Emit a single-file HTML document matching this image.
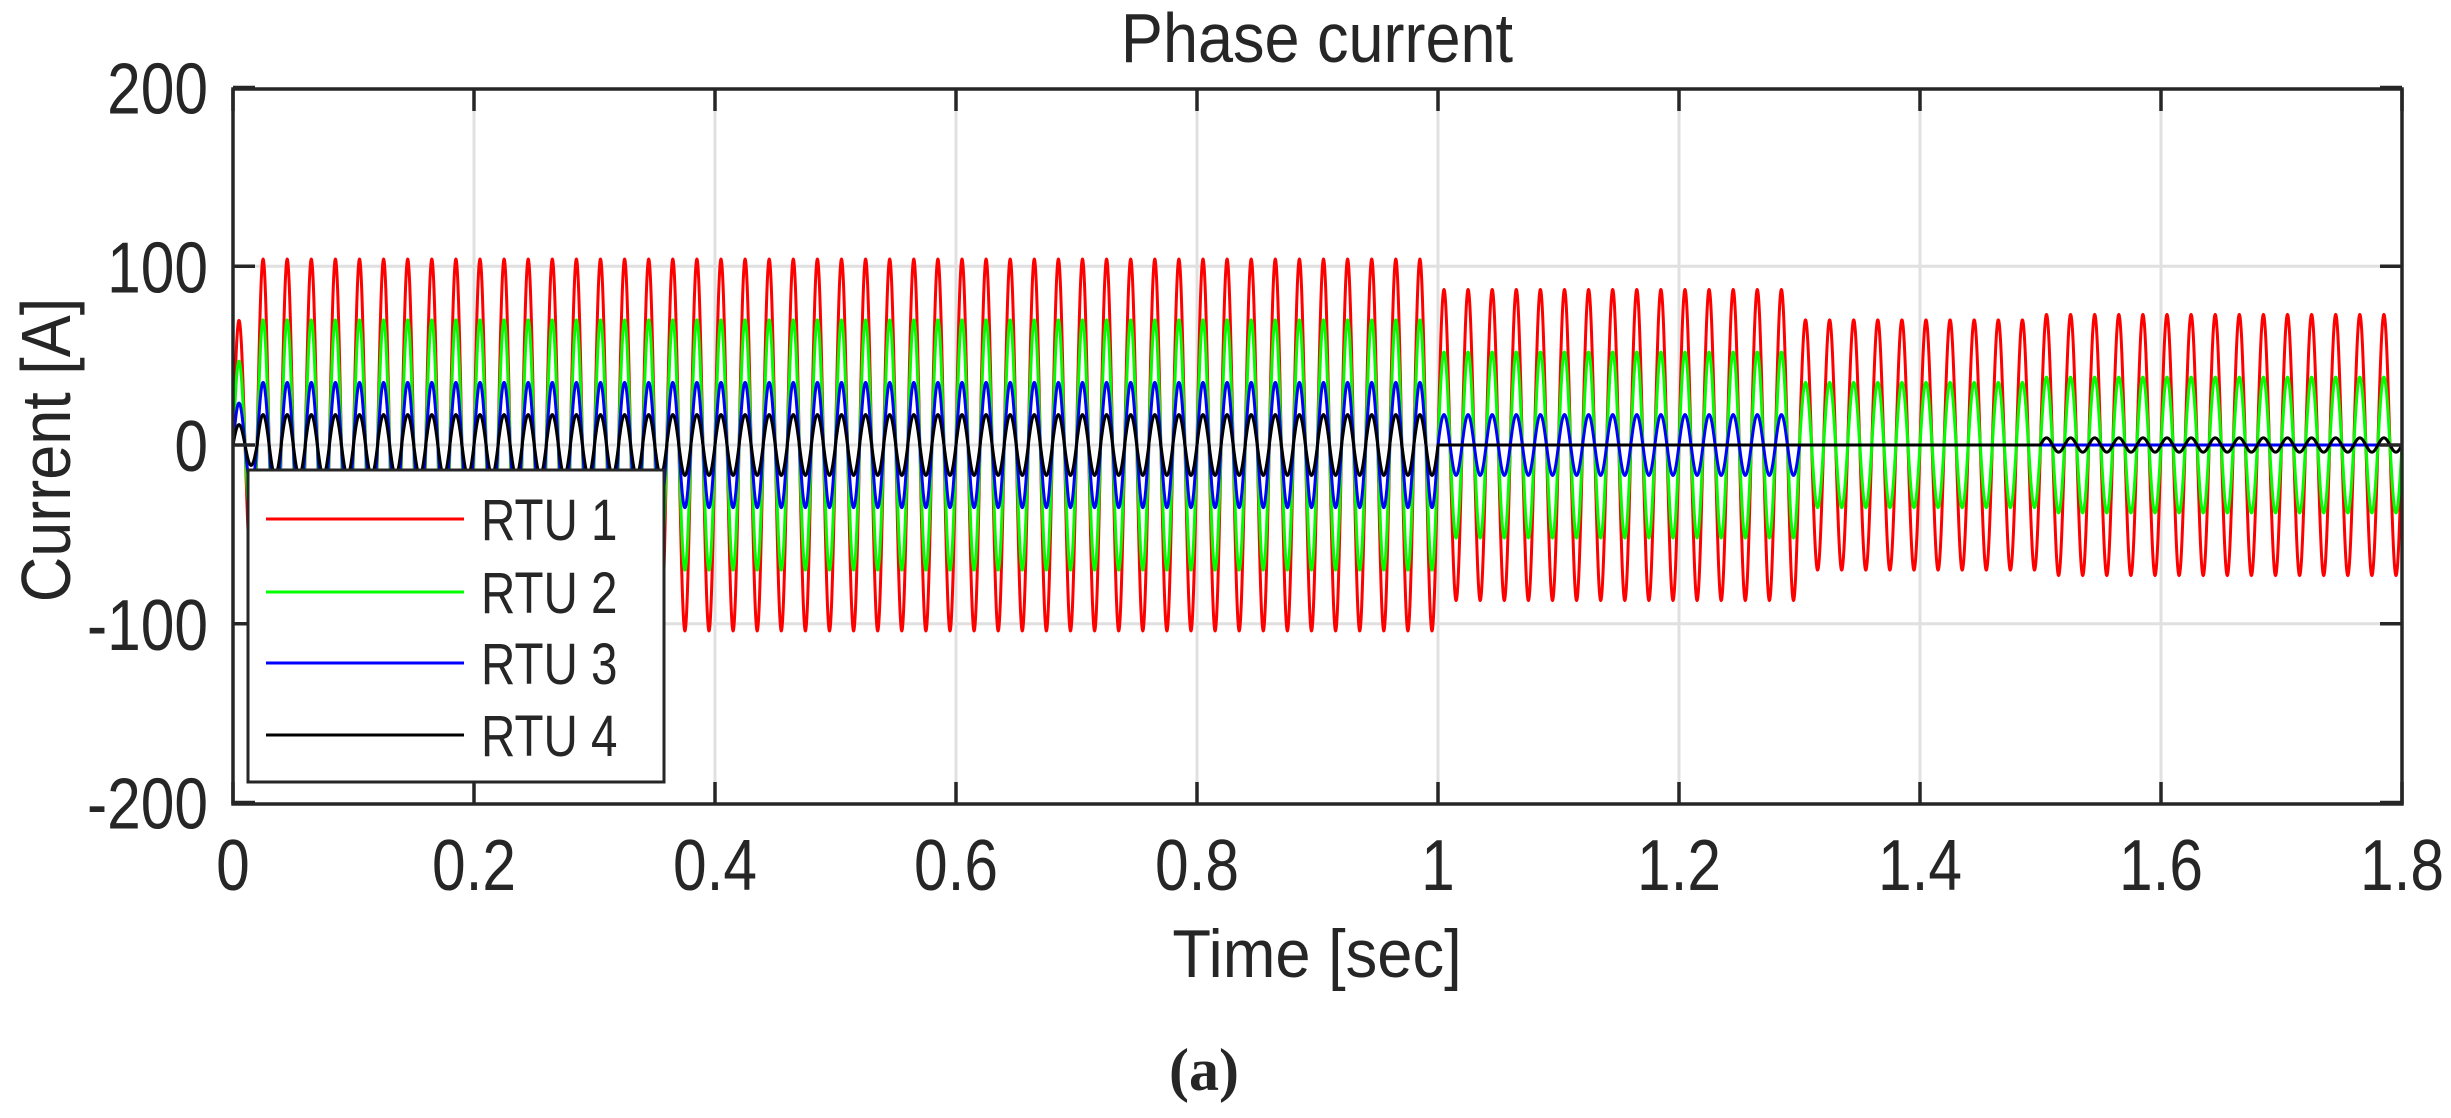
<!DOCTYPE html>
<html><head><meta charset="utf-8"><style>
html,body{margin:0;padding:0;background:#fff;}
svg text{font-family:"Liberation Sans",Arial,sans-serif;fill:#262626;}
</style></head><body>
<svg id="s" width="2451" height="1113" xmlns="http://www.w3.org/2000/svg">
<rect width="2451" height="1113" fill="#fff"/>
<g id="grid" stroke="#e0e0e0" stroke-width="3"></g>
<g id="data" fill="none" stroke-width="3" stroke-linejoin="round"></g>
<g id="axes" stroke="#262626" stroke-width="3.5" fill="none"></g>
<g id="labels" font-size="72"></g>
<g transform="translate(1317,62) scale(0.9,1)"><text font-size="70" text-anchor="middle">Phase current</text></g>
<g transform="translate(1317,977) scale(0.93,1)"><text font-size="68" text-anchor="middle">Time [sec]</text></g>
<g transform="translate(70,450) rotate(-90) scale(0.9,1)"><text font-size="70" text-anchor="middle">Current [A]</text></g>
<text x="1204" y="1090" font-size="60" font-weight="bold" text-anchor="middle" style="font-family:'Liberation Serif',serif">(a)</text>
<g id="legend">
<rect x="248" y="470" width="416" height="312" fill="#fff" stroke="#262626" stroke-width="3"/>
<line x1="266" x2="464" y1="519" y2="519" stroke="#ff0000" stroke-width="3"/>
<line x1="266" x2="464" y1="592" y2="592" stroke="#00ff00" stroke-width="3"/>
<line x1="266" x2="464" y1="663" y2="663" stroke="#0000ff" stroke-width="3"/>
<line x1="266" x2="464" y1="735" y2="735" stroke="#000000" stroke-width="3"/>
<g font-size="58">
<g transform="translate(481,540) scale(0.82,1)"><text>RTU 1</text></g>
<g transform="translate(481,613) scale(0.82,1)"><text>RTU 2</text></g>
<g transform="translate(481,684) scale(0.82,1)"><text>RTU 3</text></g>
<g transform="translate(481,756) scale(0.82,1)"><text>RTU 4</text></g>
</g>
</g>
</svg>
<script>
var L=233,R=2402,T=89,B=804;
function X(t){return L+(R-L)*t/1.8;}
function Y(v){return 445+(-v)*(B-T)/400;}
var ns="http://www.w3.org/2000/svg";
function el(p,n,a){var e=document.createElementNS(ns,n);for(var k in a)e.setAttribute(k,a[k]);p.appendChild(e);return e;}
var g=document.getElementById('grid'),ax=document.getElementById('axes'),lb=document.getElementById('labels');
function lab(x,y,s,anchor){var gg=el(lb,'g',{transform:'translate('+x+','+y+') scale(0.84,1)'});var t=el(gg,'text',{'text-anchor':anchor});t.textContent=s;}
for(var i=0;i<=9;i++){var t=i*0.2,x=X(t);
 if(i>0&&i<9)el(g,'line',{x1:x,x2:x,y1:T,y2:B});
 el(ax,'line',{x1:x,x2:x,y1:B,y2:B-22});el(ax,'line',{x1:x,x2:x,y1:T,y2:T+22});
 lab(x,890,(Math.round(t*10)/10).toString(),'middle');}
[200,100,0,-100,-200].forEach(function(v){var y=Y(v);
 if(v!=200&&v!=-200)el(g,'line',{x1:L,x2:R,y1:y,y2:y});
 el(ax,'line',{x1:L,x2:L+22,y1:y,y2:y});el(ax,'line',{x1:R,x2:R-22,y1:y,y2:y});
 lab(208,y+26,String(v),'end');});
el(ax,'rect',{x:L,y:T,width:R-L,height:B-T});
function amp(k,t){
 var a=[[104,87,70,73],[70,52,35,38],[35,17,0,0],[17,0,0,4]][k];
 if(t<1.0)return a[0];if(t<1.3)return a[1];if(t<1.5)return a[2];return a[3];}
var cols=['#ff0000','#00ff00','#0000ff','#000000'];
var d=document.getElementById('data');
for(var k=0;k<4;k++){
 var p='',N=7200;
 for(var i=0;i<=N;i++){var t=1.8*i/N;var a=amp(k,t);
  var ramp=t<0.02?0.67:1;
  var v=a*ramp*Math.sin(2*Math.PI*50*t);
  p+=(i?'L':'M')+X(t).toFixed(1)+' '+Y(v).toFixed(1);}
 el(d,'path',{d:p,stroke:cols[k]});}
</script>
</body></html>
